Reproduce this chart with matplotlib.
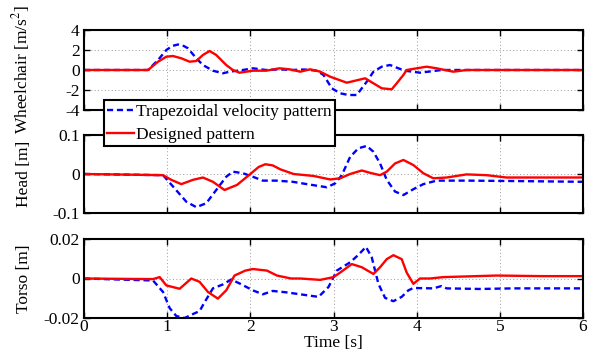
import matplotlib
matplotlib.use("Agg")
import matplotlib.pyplot as plt

plt.rcParams['font.family'] = ['Liberation Serif', 'DejaVu Serif']
plt.rcParams['mathtext.fontset'] = 'stix'

# ---- data (time [s], value) ----
wc_trap_t = [0, 0.77, 0.89, 0.99, 1.06, 1.13, 1.2, 1.25, 1.35, 1.43, 1.55, 1.67, 1.75, 1.91, 2.03, 2.19,
             2.35, 2.5, 2.65, 2.8, 2.88, 2.98, 3.08, 3.18, 3.28, 3.34, 3.40, 3.48, 3.58, 3.68, 3.78, 3.86,
             4.04, 4.14, 4.3, 4.6, 5.0, 6.0]
wc_trap_v = [0, 0, 1.0, 2.0, 2.4, 2.55, 2.4, 2.17, 1.17, 0.5, -0.07, -0.33, -0.17, 0, 0.17, 0,
             0.07, 0, 0.05, -0.07, -0.5, -1.83, -2.33, -2.5, -2.5, -1.83, -1.17, -0.17, 0.33, 0.5, 0.17, -0.07,
             -0.27, -0.17, 0, 0, 0, 0]

wc_des_t = [0, 0.77, 0.89, 0.99, 1.07, 1.17, 1.27, 1.35, 1.43, 1.51, 1.59, 1.71, 1.79, 1.87, 2.03, 2.19,
            2.35, 2.47, 2.6, 2.72, 2.84, 2.96, 3.16, 3.27, 3.38, 3.48, 3.58, 3.70, 3.76, 3.84, 3.88, 4.0,
            4.12, 4.24, 4.44, 4.6, 5.0, 6.0]
wc_des_v = [0, 0, 0.83, 1.33, 1.4, 1.17, 0.83, 0.9, 1.5, 1.9, 1.5, 0.5, 0, -0.27, -0.07, -0.07,
            0.17, 0.07, -0.17, 0.07, -0.17, -0.67, -1.27, -1.05, -0.83, -1.33, -1.83, -1.93, -1.33, -0.5, 0, 0.17,
            0.33, 0.17, -0.17, 0, 0, 0]

head_trap_t = [0, 0.95, 1.07, 1.23, 1.35, 1.47, 1.59, 1.71, 1.79, 1.91, 2.03, 2.15, 2.31, 2.51, 2.68,
               2.92, 3.02, 3.10, 3.20, 3.30, 3.40, 3.48, 3.56, 3.64, 3.74, 3.84, 3.96, 4.08, 4.24, 4.6,
               5.16, 6.0]
head_trap_v = [0, -0.003, -0.032, -0.071, -0.085, -0.075, -0.041, -0.007, 0.006, 0.002, -0.007, -0.017,
               -0.017, -0.02, -0.026, -0.034, -0.024, -0.003, 0.044, 0.066, 0.072, 0.057, 0.027, -0.015,
               -0.045, -0.054, -0.039, -0.026, -0.017, -0.017, -0.018, -0.02]

head_des_t = [0, 0.95, 1.05, 1.17, 1.31, 1.43, 1.55, 1.69, 1.84, 2.0, 2.1, 2.18, 2.27, 2.36, 2.52,
              2.76, 2.96, 3.08, 3.20, 3.34, 3.44, 3.56, 3.64, 3.74, 3.84, 3.96, 4.08, 4.2, 4.36, 4.6,
              4.84, 5.08, 5.56, 6.0]
head_des_v = [0, -0.003, -0.015, -0.026, -0.015, -0.009, -0.02, -0.041, -0.028, 0, 0.018, 0.025, 0.022,
              0.012, 0, -0.005, -0.014, -0.011, 0, 0.009, 0.003, -0.003, 0.006, 0.027, 0.036, 0.023,
              0.002, -0.011, -0.009, -0.001, -0.003, -0.009, -0.009, -0.009]

torso_trap_t = [0, 0.4, 0.83, 0.95, 1.03, 1.11, 1.21, 1.31, 1.39, 1.45, 1.55, 1.67, 1.77, 1.88, 2.03,
                2.15, 2.27, 2.43, 2.6, 2.82, 2.94, 3.04, 3.20, 3.30, 3.39, 3.46, 3.54, 3.62, 3.72, 3.82,
                3.90, 3.96, 4.2, 4.30, 4.36, 4.76, 5.16, 6.0]
torso_trap_v = [0, -0.0005, -0.001, -0.0068, -0.015, -0.019, -0.02, -0.018, -0.0165, -0.012, -0.005,
                -0.003, -0.0005, -0.0027, -0.006, -0.008, -0.0063, -0.007, -0.008, -0.0093, -0.0043,
                0.004, 0.0082, 0.012, 0.016, 0.0107, -0.0027, -0.0098, -0.0115, -0.0093, -0.006,
                -0.0048, -0.005, -0.0038, -0.005, -0.0053, -0.005, -0.005]

torso_des_t = [0, 0.5, 0.83, 0.91, 0.99, 1.15, 1.29, 1.39, 1.49, 1.61, 1.71, 1.81, 1.94, 2.03, 2.20,
               2.32, 2.49, 2.6, 2.84, 3.0, 3.08, 3.22, 3.34, 3.48, 3.56, 3.64, 3.72, 3.82, 3.88, 3.96,
               4.04, 4.16, 4.32, 4.56, 4.96, 5.5, 6.0]
torso_des_v = [0, -0.0002, -0.0003, 0.0007, -0.0035, -0.0052, 0, -0.0017, -0.0068, -0.0102, -0.006,
               0.0015, 0.004, 0.0048, 0.004, 0.0015, 0, 0, -0.0007, 0.0007, 0.003, 0.0073, 0.0057,
               0.0023, 0.0057, 0.0098, 0.0118, 0.0098, 0.003, -0.0027, 0, 0, 0.0007, 0.001, 0.0015,
               0.0012, 0.0012]

series_labels = ['Trapezoidal velocity pattern', 'Designed pattern']
y_labels = ['Wheelchair [m/s$^2$]', 'Head [m]', 'Torso [m]']
y_limits = [(-4, 4), (-0.1, 0.1), (-0.02, 0.02)]
y_ticks = [[-4, -2, 0, 2, 4], [-0.1, 0, 0.1], [-0.02, 0, 0.02]]
y_ticklabels = [['-4', '-2', '0', '2', '4'], ['-0.1', '0', '0.1'], ['-0.02', '0', '0.02']]
x_ticks = [0, 1, 2, 3, 4, 5, 6]

W, H = 589, 353
fig = plt.figure(figsize=(W / 100, H / 100), dpi=100)
boxes = [(30, 110), (135, 213), (239, 318)]
left, right = 84, 583

data = [((wc_trap_t, wc_trap_v), (wc_des_t, wc_des_v)),
        ((head_trap_t, head_trap_v), (head_des_t, head_des_v)),
        ((torso_trap_t, torso_trap_v), (torso_des_t, torso_des_v))]

FS = 12.5
handles = None
for i, (top, bot) in enumerate(boxes):
    ax = fig.add_axes([left / W, 1 - bot / H, (right - left) / W, (bot - top) / H])
    (bt, bv), (rt, rv) = data[i]
    h1, = ax.plot(bt, bv, color='#0000ff', lw=1.7, ls=(0, (2.6, 1.6)), label=series_labels[0])
    h2, = ax.plot(rt, rv, color='#ff0000', lw=1.7, label=series_labels[1])
    if handles is None:
        handles = [h1, h2]
    ax.set_xlim(0, 6)
    ax.set_ylim(*y_limits[i])
    ax.set_xticks(x_ticks)
    ax.set_yticks(y_ticks[i])
    ax.set_yticklabels(y_ticklabels[i])
    ax.grid(True, ls=(0, (1, 2.5)), color='#999999', lw=0.7)
    ax.tick_params(direction='in', top=True, right=True, labelsize=FS, length=4, width=1, pad=3)
    ax.tick_params(axis='x', pad=1)
    for s in ax.spines.values():
        s.set_linewidth(1.5)
    if i < 2:
        ax.set_xticklabels([])
    else:
        ax.set_xticklabels([str(v) for v in x_ticks])
        ax.set_xlabel('Time [s]', fontsize=FS, labelpad=0)
    ax.set_ylabel(y_labels[i], fontsize=FS)
    ax.yaxis.set_label_coords(-0.104, 0.5)

leg = fig.legend(handles, series_labels, loc='upper left',
                 bbox_to_anchor=(104 / W, 1 - 100 / H), borderaxespad=0,
                 fontsize=FS, frameon=True, fancybox=False, framealpha=1,
                 edgecolor='black', handlelength=1.5, handletextpad=0.12,
                 borderpad=0.2, labelspacing=0.4)
leg.get_frame().set_linewidth(1.5)

fig.savefig('out.png', dpi=100)
